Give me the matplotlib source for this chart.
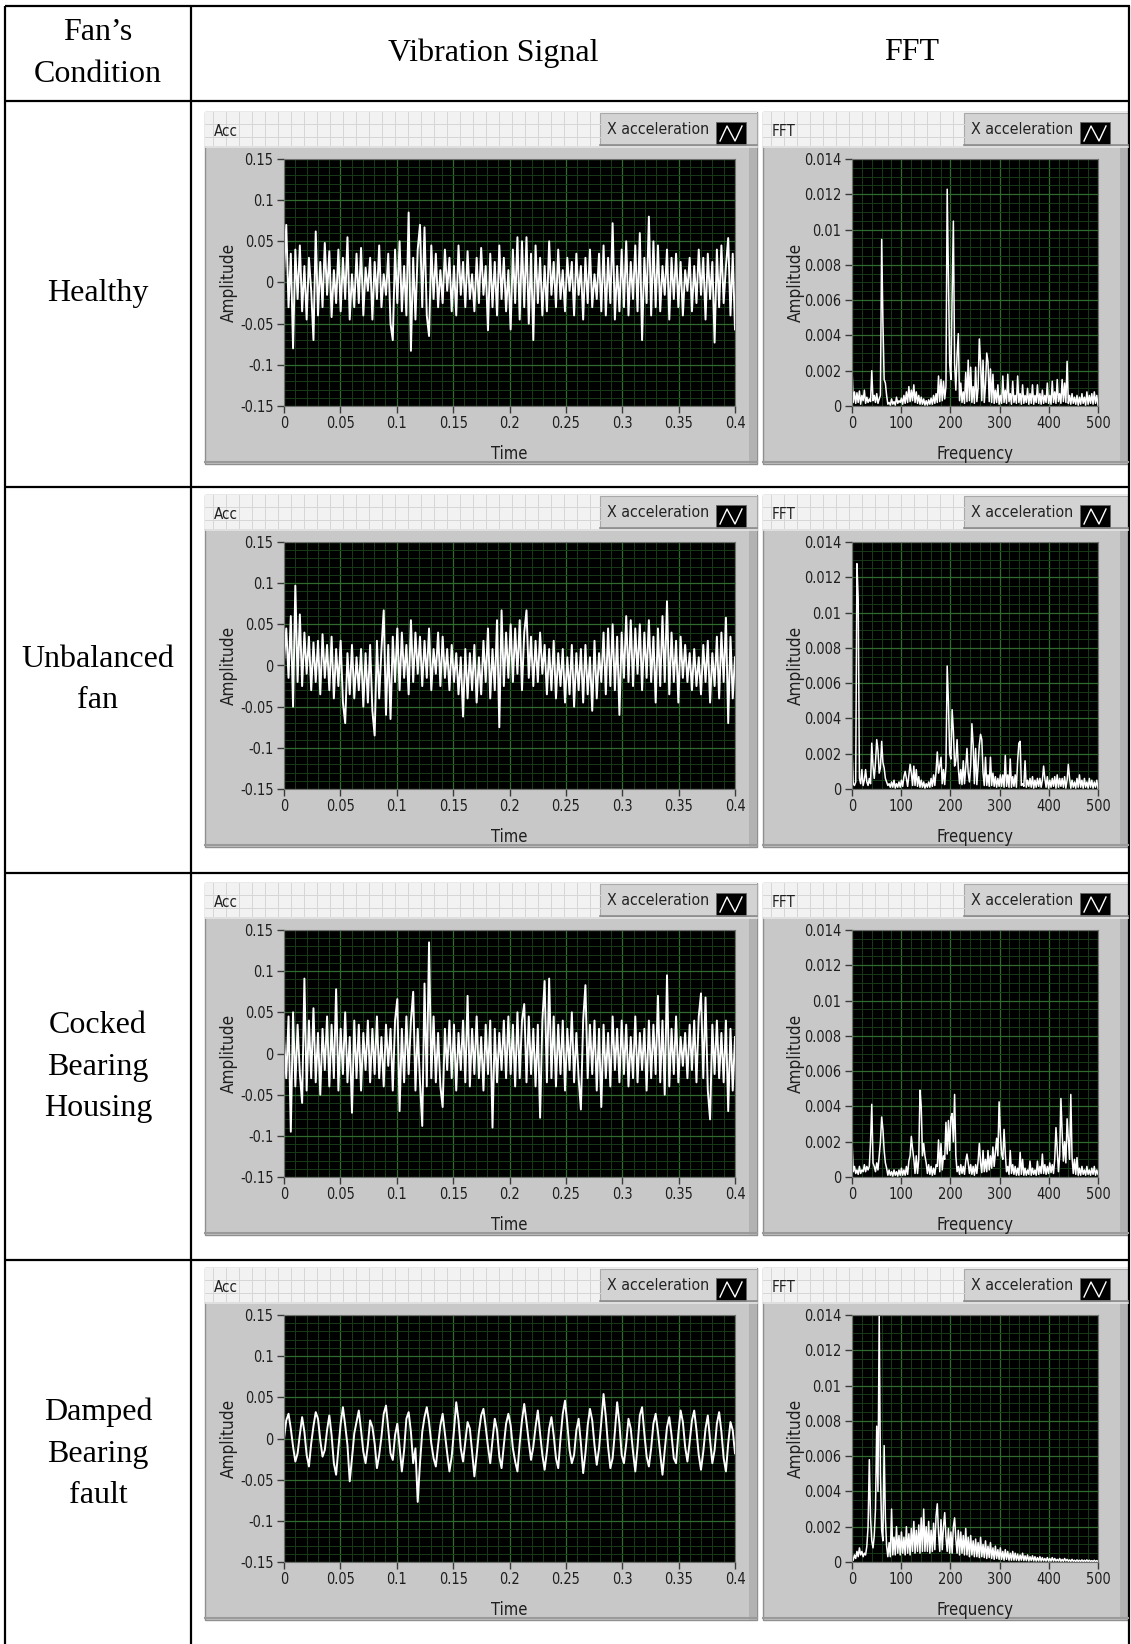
import numpy as np
import matplotlib
matplotlib.use('Agg')
import matplotlib.pyplot as plt
from matplotlib.patches import Rectangle
from matplotlib.ticker import AutoMinorLocator
from matplotlib import font_manager
from matplotlib.font_manager import FontProperties

W, H = 1131, 1644

# row labels of the table
conditions = [['Healthy'], ['Unbalanced', 'fan'],
              ['Cocked', 'Bearing', 'Housing'], ['Damped', 'Bearing', 'fault']]

# vibration signals, 0 .. 0.4 s, values in 1e-3
healthy_sig = [
    10, 70, -30, 35, -80, 40, -20, 45, -35, 20, -45, 30, -10, -70, 62, -40, 25, -30, 48, -15,
    38, -42, 15, -25, 40, -35, 30, -20, 55, -45, 10, -30, 35, -25, 42, -40, 18, -10, 30, -45,
    25, -20, 45, -30, 10, -15, 35, -50, -70, 40, -25, 50, -35, 20, -40, 85, -83, 30, -45, 40,
    70, -30, 67, -40, -65, 45, -20, 35, -30, 15, -25, 40, -10, 30, -35, 20, -40, 45, -15, 25,
    -30, 38, -20, 10, -35, 30, -25, 42, -15, 20, -58, 35, -30, 25, -40, 45, -20, 30, -35, 15,
    -57, 40, -25, 55, -45, 50, -30, 55, -50, 35, -70, 45, -25, 30, -40, 20, -35, 50, -15, 25,
    -30, 40, -20, 15, -35, 30, -10, 25, -40, 35, -15, 20, -45, 30, -25, 40, -30, 10, -20, 35,
    -35, 45, -40, 30, -25, 72, -45, 20, -35, 40, -30, 50, -40, 25, -20, 45, -35, 60, -70, 30,
    -25, 80, -40, 50, -30, 45, -35, 20, -15, 40, -45, 30, -20, 35, -30, 25, -40, 15, -10, 30,
    -35, 20, -25, 40, -15, 30, -45, 35, -20, 25, -73, 40, -30, 45, -25, 20, 54, -40, 35, -57]
unbalanced_sig = [
    5, 45, -15, 60, -50, 97, -20, 62, -25, 40, -10, 35, -30, 28, -20, 30, -35, 38, -15, 25,
    -30, 35, -40, 20, -25, 30, -45, -70, 15, -35, 25, -40, 10, -30, 20, -50, 15, -45, 25, -55,
    -85, 30, -40, 20, 67, -60, 25, -65, 35, -20, 45, -30, 40, -15, 25, -35, 55, -20, 40, -10,
    35, -25, 30, -15, 45, -30, 20, -10, 40, -25, 35, -15, 20, -30, 25, -20, 15, -35, 10, -62,
    20, -40, 15, -30, 25, -45, 10, -35, 30, -20, 45, -40, 20, -30, 55, -75, 67, -25, 40, -15,
    50, -20, 45, -10, 55, -30, 40, 67, -15, 35, -25, 30, -20, 40, -10, 25, -35, 20, -30, 30,
    -40, 15, -25, 20, -45, 10, -35, 25, -50, 15, -30, 20, -45, 25, -35, 10, -55, 30, -40, 15,
    -20, 40, -35, 45, -25, 50, -30, 35, -60, 40, -15, 60, -20, 55, -25, 45, -10, 50, -30, 40,
    -15, 55, -20, 35, -45, 45, -25, 60, -20, 78, -35, 40, -20, 30, -45, 35, -15, 25, -20, 15,
    -30, 20, -25, 10, -35, 25, -20, 30, -45, 15, -25, 35, -40, 40, -20, 58, -70, 35, -40, 10]
cocked_sig = [
    20, -30, 45, -95, 50, -40, 35, -25, -60, 91, -45, 40, -30, 55, -35, 25, -50, 30, -20, 45,
    -40, 35, -30, 78, -45, 30, -25, 50, -35, 20, -72, 40, -30, 35, -45, 25, -20, 40, -35, 30,
    -25, 45, -30, 20, -40, 35, -15, 30, -45, 40, 66, -70, 30, -35, 45, -25, 40, 75, -45, 30,
    -35, -88, 85, -40, 135, -30, 45, -35, 25, -40, -65, 30, -20, 40, -30, 35, -45, 25, -20, 40,
    -35, 70, -40, 30, -25, 45, -30, 20, -45, 35, -25, 40, -90, 30, -35, 25, -20, 40, -30, 45,
    -25, 35, -40, 50, -30, 40, 60, -35, 45, -25, 30, -40, 35, -78, 40, 88, -35, 91, -30, 45,
    -40, 35, -25, 40, -45, 30, -20, 50, -35, 25, -30, -68, 40, 83, -30, 35, -25, 40, -45, 30,
    -65, 35, -30, 25, -40, 45, -20, 30, -35, 40, -25, 35, -40, 20, -30, 45, -35, 25, -20, 30,
    -45, 40, -30, 35, -25, 70, -35, 40, -50, 95, -40, 30, -25, 45, -35, 20, -15, 25, -30, 35,
    -20, 40, -35, 45, 73, -30, 68, -45, -80, 35, -25, 40, -30, 25, -35, 40, -70, 30, -45, 20]
damped_sig = [
    0, 22, 30, 12, -10, -28, -18, 5, 26, 8, -20, -34, -6, 15, 32, 24, -2, -22, -14, 10,
    28, 4, -30, -44, -12, 18, 38, 16, -8, -52, -24, 6, 20, 34, 10, -16, -30, -8, 22, 14,
    -6, -36, -20, 2, 30, 40, 12, -18, -26, 4, 18, -10, -40, -14, 24, 32, 8, -30, -12, -77,
    -30, 8, 26, 38, 20, -6, -24, -34, -8, 16, 30, 6, -18, -40, -22, 10, 44, 22, -12, -28,
    -4, 20, 12, -16, -46, -20, 8, 28, 36, 14, -10, -30, -2, 24, 10, -22, -36, -8, 18, 30,
    16, -12, -28, -40, -6, 22, 42, 20, -4, -26, -10, 14, 34, 6, -20, -38, -16, 12, 26, 4,
    -24, -36, 0, 30, 46, 18, -14, -30, -20, 10, 24, -6, -42, -18, 16, 36, 22, -8, -32, -12,
    20, 54, 26, -10, -36, -24, 8, 44, 18, -20, -30, -6, 24, 12, -16, -40, -10, 28, 38, 6,
    -22, -34, -12, 18, 30, 8, -18, -44, -14, 14, 26, 4, -24, -30, 6, 34, 20, -10, -28, -4,
    22, 34, 10, -20, -38, -16, 12, 28, -2, -30, -14, 18, 32, 8, -24, -40, -6, 20, 10, -18]

# FFT magnitudes, 0 .. 500 Hz, values in 1e-5
healthy_fft = [
    210, 20, 80, 15, 75, 20, 85, 10, 60, 30, 90, 15, 50, 20, 40, 25, 200, 30, 60, 20,
    70, 15, 40, 60, 944, 480, 150, 130, 60, 10, 20, 5, 40, 10, 25, 5, 50, 15, 30, 20,
    45, 10, 60, 15, 80, 20, 110, 25, 90, 30, 120, 20, 80, 15, 60, 10, 50, 10, 40, 5,
    30, 5, 35, 10, 45, 10, 60, 15, 70, 20, 170, 25, 150, 30, 140, 40, 110, 1229, 730, 240,
    150, 630, 1048, 240, 90, 290, 410, 30, 130, 20, 80, 15, 190, 25, 260, 30, 220, 20, 110, 15,
    220, 25, 100, 380, 250, 30, 260, 20, 120, 300, 250, 25, 210, 20, 180, 15, 90, 20, 120, 10,
    60, 15, 170, 20, 90, 15, 180, 25, 70, 10, 140, 20, 60, 15, 170, 20, 70, 10, 120, 15,
    60, 20, 100, 10, 70, 15, 120, 10, 60, 20, 120, 15, 70, 10, 90, 15, 60, 20, 130, 15,
    60, 10, 140, 20, 80, 15, 150, 25, 70, 15, 150, 25, 130, 20, 253, 15, 60, 10, 70, 15,
    50, 10, 60, 5, 50, 10, 70, 15, 50, 5, 80, 10, 60, 15, 70, 10, 80, 15, 60, 5]
unbalanced_fft = [
    220, 30, 20, 40, 1277, 1080, 60, 30, 110, 20, 50, 110, 40, 20, 60, 30, 260, 130, 60, 150,
    280, 220, 90, 120, 270, 150, 120, 60, 40, 20, 30, 10, 40, 10, 50, 5, 30, 10, 40, 10,
    50, 15, 70, 100, 60, 15, 80, 140, 90, 20, 130, 20, 110, 15, 70, 10, 50, 10, 40, 5,
    30, 10, 40, 10, 60, 15, 80, 20, 100, 210, 90, 130, 180, 30, 110, 25, 130, 697, 490, 200,
    170, 450, 330, 130, 160, 280, 120, 30, 110, 25, 160, 30, 120, 230, 90, 40, 130, 370, 250, 30,
    230, 25, 130, 250, 310, 280, 90, 20, 180, 20, 80, 15, 180, 20, 90, 15, 70, 10, 60, 15,
    80, 15, 80, 10, 190, 15, 80, 10, 170, 10, 70, 15, 80, 10, 160, 260, 270, 20, 30, 15,
    160, 10, 50, 15, 60, 10, 70, 5, 50, 10, 60, 15, 60, 10, 50, 130, 60, 10, 70, 5,
    50, 10, 60, 15, 70, 5, 80, 10, 60, 15, 60, 10, 70, 5, 50, 140, 60, 5, 50, 10,
    40, 5, 60, 10, 80, 10, 50, 5, 60, 10, 40, 5, 60, 10, 50, 5, 40, 10, 50, 5]
cocked_fft = [
    206, 30, 60, 20, 40, 15, 60, 20, 40, 30, 70, 30, 60, 40, 60, 200, 412, 80, 60, 30,
    80, 40, 120, 200, 340, 270, 150, 80, 50, 10, 40, 10, 30, 5, 40, 10, 30, 5, 40, 10,
    50, 10, 40, 10, 60, 15, 90, 120, 230, 160, 100, 20, 120, 20, 100, 492, 400, 120, 190, 120,
    80, 20, 70, 15, 60, 10, 50, 15, 70, 60, 210, 30, 190, 40, 120, 100, 310, 130, 320, 150,
    340, 360, 200, 468, 120, 30, 60, 15, 70, 20, 60, 15, 90, 130, 80, 20, 70, 15, 60, 10,
    70, 20, 90, 190, 80, 25, 150, 30, 100, 30, 150, 40, 120, 50, 170, 60, 140, 220, 120, 426,
    250, 130, 100, 270, 130, 30, 60, 15, 150, 20, 70, 15, 60, 10, 50, 10, 140, 15, 100, 10,
    50, 10, 40, 15, 90, 10, 50, 15, 40, 10, 90, 15, 60, 20, 130, 20, 70, 15, 60, 20,
    80, 25, 70, 20, 100, 280, 160, 30, 120, 445, 250, 90, 200, 80, 330, 210, 100, 468, 110, 20,
    100, 15, 110, 10, 50, 10, 60, 15, 40, 10, 60, 15, 40, 10, 50, 15, 60, 10, 40, 15]
damped_fft = [
    20, 10, 40, 20, 60, 30, 80, 40, 60, 30, 50, 40, 90, 200, 580, 250, 120, 80, 150, 300,
    770, 400, 1400, 500, 180, 120, 660, 250, 90, 30, 110, 30, 300, 40, 140, 40, 200, 50, 150, 40,
    170, 50, 140, 40, 200, 50, 160, 40, 190, 60, 230, 50, 180, 60, 210, 50, 250, 60, 300, 60,
    200, 60, 230, 50, 180, 60, 220, 70, 260, 330, 160, 60, 240, 70, 200, 280, 140, 60, 190, 50,
    170, 50, 200, 250, 130, 50, 180, 40, 170, 50, 150, 40, 190, 40, 140, 30, 150, 40, 120, 30,
    130, 30, 110, 25, 140, 30, 100, 25, 120, 20, 90, 25, 110, 20, 80, 15, 90, 20, 70, 15,
    80, 15, 60, 10, 70, 15, 60, 10, 50, 10, 60, 10, 50, 10, 45, 8, 40, 10, 50, 8,
    35, 8, 40, 6, 30, 8, 35, 6, 30, 5, 25, 6, 30, 5, 25, 6, 20, 5, 25, 5,
    20, 5, 25, 5, 20, 5, 15, 5, 20, 4, 15, 4, 20, 5, 15, 4, 12, 3, 15, 4,
    10, 3, 12, 3, 10, 3, 12, 3, 10, 3, 12, 3, 10, 3, 8, 3, 10, 3, 8, 3]

signals = [healthy_sig, unbalanced_sig, cocked_sig, damped_sig]
spectra = [healthy_fft, unbalanced_fft, cocked_fft, damped_fft]

time_ticks = [0, 0.05, 0.1, 0.15, 0.2, 0.25, 0.3, 0.35, 0.4]
time_labels = ['0', '0.05', '0.1', '0.15', '0.2', '0.25', '0.3', '0.35', '0.4']
amp_ticks = [-0.15, -0.1, -0.05, 0, 0.05, 0.1, 0.15]
amp_labels = ['-0.15', '-0.1', '-0.05', '0', '0.05', '0.1', '0.15']
freq_ticks = [0, 100, 200, 300, 400, 500]
freq_labels = ['0', '100', '200', '300', '400', '500']
mag_ticks = [0, 0.002, 0.004, 0.006, 0.008, 0.01, 0.012, 0.014]
mag_labels = ['0', '0.002', '0.004', '0.006', '0.008', '0.01', '0.012', '0.014']

# fonts: a narrow sans for the LabVIEW panels if one is installed
avail = {f.name for f in font_manager.fontManager.ttflist}
cond_file = font_manager.findfont(FontProperties(family='DejaVu Sans', stretch='condensed'))
if 'Liberation Sans Narrow' in avail:
    ui_font, stretch, k = 'Liberation Sans Narrow', 'normal', 1.0
elif 'Condensed' in cond_file:
    ui_font, stretch, k = 'DejaVu Sans', 'condensed', 0.95
else:
    ui_font, stretch, k = 'DejaVu Sans', 'normal', 0.85
plt.rcParams['font.family'] = [ui_font, 'DejaVu Sans']
plt.rcParams['font.stretch'] = stretch
serif = ['Liberation Serif', 'DejaVu Serif']

fig = plt.figure(figsize=(W / 100, H / 100), dpi=100)
fig.patch.set_facecolor('white')

bg = fig.add_axes([0, 0, 1, 1])
bg.set_xlim(0, W)
bg.set_ylim(H, 0)
bg.axis('off')


def px_rect(x0, y0, x1, y1):
    return [x0 / W, 1 - y1 / H, (x1 - x0) / W, (y1 - y0) / H]


def hline(y, x0, x1, **kw):
    bg.plot([x0, x1], [y, y], **kw)


def vline(x, y0, y1, **kw):
    bg.plot([x, x], [y0, y1], **kw)


# table
tl = dict(color='black', lw=1.6, solid_capstyle='butt')
hline(6, 5, 1130, **tl)
for y in [101, 487, 873, 1260]:
    hline(y, 5, 1130, **tl)
vline(5, 6, H, **tl)
vline(191, 6, H, **tl)
vline(1129, 6, H, **tl)

hs = 23
bg.text(98, 33, 'Fan\u2019s', family=serif, fontsize=hs, ha='center', va='center')
bg.text(98, 74, 'Condition', family=serif, fontsize=hs, ha='center', va='center')
bg.text(493, 53, 'Vibration Signal', family=serif, fontsize=hs, ha='center', va='center')
bg.text(912, 53, 'FFT', family=serif, fontsize=hs, ha='center', va='center')

row_centers = [294, 680, 1067, 1454]
for words, yc in zip(conditions, row_centers):
    n = len(words)
    for j, w in enumerate(words):
        bg.text(98, yc + (j - (n - 1) / 2) * 41.5, w, family=serif, fontsize=hs,
                ha='center', va='center')


def draw_panel(x0, x1, top, title, bx0, ix0):
    bottom = top + 352
    bg.add_patch(Rectangle((x0, top), x1 - x0, bottom - top, fc='#c8c8c8',
                           ec='#8f8f8f', lw=1.0))
    bg.add_patch(Rectangle((x1 - 8, top + 34), 8, bottom - top - 34, fc='#b2b2b2', lw=0))
    hline(bottom - 2, x0, x1, color='#9a9a9a', lw=1.5)
    # title strip
    bg.add_patch(Rectangle((x0, top), x1 - x0, 34, fc='#f2f2f2', lw=0))
    for gx in np.arange(x0 + 8, bx0, 13):
        vline(gx, top, top + 34, color='#d6d6d6', lw=0.7)
    for gy in [top + 12, top + 25]:
        hline(gy, x0, bx0, color='#d6d6d6', lw=0.7)
    hline(top + 35, x0, x1, color='#e4e4e4', lw=1.2)
    bg.text(x0 + 9, top + 19, title, fontsize=11.5 * k, color='#222222',
            ha='left', va='center')
    # legend button
    bg.add_patch(Rectangle((bx0, top + 1), x1 - bx0, 32, fc='#d3d3d3', ec='#a9a9a9', lw=0.8))
    hline(top + 33, bx0, x1, color='#8c8c8c', lw=1.2)
    bg.text((bx0 + ix0) / 2, top + 17, 'X acceleration', fontsize=12 * k,
            color='#222222', ha='center', va='center')
    bg.add_patch(Rectangle((ix0, top + 10), 30, 23, fc='black', ec='#666666', lw=0.6))
    bg.plot([ix0 + 4, ix0 + 11, ix0 + 19, ix0 + 26],
            [top + 29, top + 14, top + 29, top + 14], color='white', lw=1.0)


def style_axes(ax, xt, xl, yt, yl, xlim, ylim, yminor):
    ax.set_facecolor('black')
    ax.set_xlim(xlim)
    ax.set_ylim(ylim)
    ax.set_xticks(xt, xl)
    ax.set_yticks(yt, yl)
    ax.xaxis.set_minor_locator(AutoMinorLocator(5))
    ax.yaxis.set_minor_locator(AutoMinorLocator(yminor))
    ax.set_axisbelow(True)
    ax.grid(which='major', color='#2f6b2f', lw=0.9)
    ax.grid(which='minor', color='#173a17', lw=0.7)
    ax.tick_params(which='major', direction='out', length=5, width=1,
                   color='#3a3a3a', labelsize=11 * k, pad=2.5, labelcolor='#1e1e1e')
    ax.tick_params(which='minor', length=0)
    for s in ax.spines.values():
        s.set_color('#707070')
        s.set_linewidth(0.8)


panel_tops = [112, 495, 883, 1268]
for sig, spec, top in zip(signals, spectra, panel_tops):
    pt = top + 47
    pb = pt + 247
    draw_panel(205, 757, top, 'Acc', 600, 716)
    draw_panel(763, 1128, top, 'FFT', 964, 1080)

    ax = fig.add_axes(px_rect(284, pt, 735, pb))
    t = np.linspace(0, 0.4, len(sig))
    ax.plot(t, np.array(sig) * 1e-3, color='white', lw=1.4)
    style_axes(ax, time_ticks, time_labels, amp_ticks, amp_labels,
               (0, 0.4), (-0.15, 0.15), 5)

    af = fig.add_axes(px_rect(852, pt, 1098, pb))
    f = np.linspace(0, 500, len(spec))
    af.plot(f, np.array(spec) * 1e-5, color='white', lw=1.1)
    style_axes(af, freq_ticks, freq_labels, mag_ticks, mag_labels,
               (0, 500), (0, 0.014), 4)

    bg.text(229, (pt + pb) / 2, 'Amplitude', rotation=90, fontsize=13 * k,
            color='#1e1e1e', ha='center', va='center')
    bg.text(796, (pt + pb) / 2, 'Amplitude', rotation=90, fontsize=13 * k,
            color='#1e1e1e', ha='center', va='center')
    bg.text((284 + 735) / 2, pt + 295, 'Time', fontsize=12.5 * k,
            color='#1e1e1e', ha='center', va='center')
    bg.text((852 + 1098) / 2, pt + 295, 'Frequency', fontsize=12.5 * k,
            color='#1e1e1e', ha='center', va='center')

fig.savefig('out.png', dpi=100)
